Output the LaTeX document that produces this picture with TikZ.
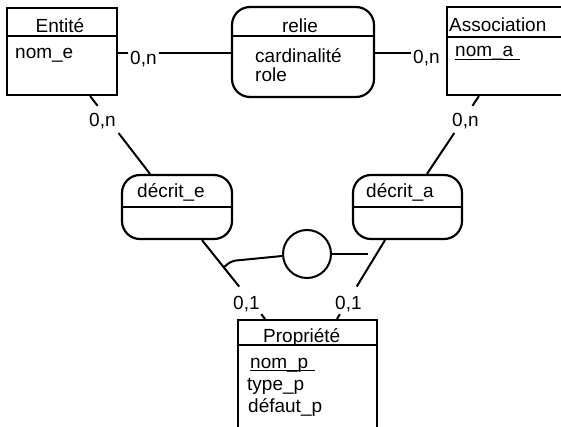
\documentclass[tikz,border=0pt]{standalone}
\usepackage{fontspec}
\setmainfont{Liberation Sans}
\usetikzlibrary{calc}

% underlined key attribute, rule running a little past the text
\newlength\pklen
\newcommand{\pk}[1]{\settowidth{\pklen}{#1}\addtolength{\pklen}{7pt}\rlap{\rule[-3.4pt]{\pklen}{1.6pt}}#1}

\tikzset{
  txt/.style={font=\fontsize{19}{22}\selectfont, inner sep=0pt},
  card/.style={txt, inner sep=2pt},
  entbox/.style={draw, line width=2.2pt, rectangle, inner sep=0pt},
  relbox/.style={draw, line width=2.2pt, rectangle, rounded corners=18pt, inner sep=0pt},
  hub/.style={draw, line width=2pt, circle, inner sep=0pt, minimum size=48pt},
  link/.style={line width=2pt},
  sep/.style={line width=2pt},
}

\begin{document}
\begin{tikzpicture}[x=1pt, y=-1pt]
\useasboundingbox (0,0) rectangle (561,427);
\clip (0,0) rectangle (561,427);
\fill[white] (0,0) rectangle (561,427);

% ---- entities and relations ----
\node[entbox, minimum width=110pt, minimum height=87pt] (ent) at (62,51.5) {};
\node[relbox, minimum width=142pt, minimum height=90pt] (relie) at (303,52) {};
\node[entbox, minimum width=143pt, minimum height=88pt] (assoc) at (518.5,51) {};
\node[relbox, minimum width=110pt, minimum height=64pt] (de) at (177,207) {};
\node[relbox, minimum width=109pt, minimum height=64pt] (da) at (407.5,207) {};
\node[hub] (circ) at (307,254) {};
\node[entbox, minimum width=139pt, minimum height=140pt] (prop) at (307.5,390) {};

% header separators
\draw[sep] ($(ent.north west)+(0,29)$) -- ($(ent.north east)+(0,29)$);
\draw[sep] ($(relie.north west)+(0,30)$) -- ($(relie.north east)+(0,30)$);
\draw[sep] ($(assoc.north west)+(0,31)$) -- ($(assoc.north east)+(0,31)$);
\draw[sep] ($(de.north west)+(0,33)$) -- ($(de.north east)+(0,33)$);
\draw[sep] ($(da.north west)+(0,33)$) -- ($(da.north east)+(0,33)$);
\draw[sep] ($(prop.north west)+(0,26)$) -- ($(prop.north east)+(0,26)$);

% ---- texts ----
\node[txt, anchor=base] (tEnt) at (60,33) {Entité};
\node[txt, anchor=base west] (tNomE) at (15,59) {nom\_e};
\node[txt, anchor=base] (tRelie) at (300,33) {relie};
\node[txt, anchor=base west] (tCard) at (255,63) {cardinalité};
\node[txt, anchor=base west] (tRole) at (255,82) {role};
\node[txt, anchor=base west] (tAssoc) at (449,32) {Association};
\node[txt, anchor=base west] (tNomA) at (455,57) {\pk{nom\_a}};
\node[txt, anchor=base west] (tDe) at (137,198) {décrit\_e};
\node[txt, anchor=base west] (tDa) at (366,198) {décrit\_a};
\node[txt, anchor=base west] (tProp) at (263,342) {Propriété};
\node[txt, anchor=base west] (tNomP) at (250,368) {\pk{nom\_p}};
\node[txt, anchor=base west] (tType) at (247,390) {type\_p};
\node[txt, anchor=base west] (tDef) at (248,412) {défaut\_p};

% ---- cardinalities ----
\node[card, anchor=base west] (c1) at (128,65) {0,n};
\node[card, anchor=base west] (c2) at (411,64) {0,n};
\node[card, anchor=base west] (c3) at (87,127) {0,n};
\node[card, anchor=base west] (c4) at (450,127) {0,n};
\node[card, anchor=base west] (c5) at (231,309) {0,1};
\node[card, anchor=base west] (c6) at (333,309) {0,1};

% ---- connectors ----
\coordinate (h1) at ($(ent.east)+(0,1.5)$);
\coordinate (h2) at ($(relie.west)+(0,1)$);
\coordinate (h3) at ($(relie.east)+(0,1)$);
\draw[link] (h1) -- (c1.west |- h1);
\draw[link] (c1.east |- h2) -- (h2);
\draw[link] (h3) -- (c2.west |- h3);

% Entité -- décrit_e, broken around its label
\path ($(ent.south east)+(-28,0)$) coordinate (a1)
      -- coordinate[pos=0.125] (a2) coordinate[pos=0.475] (a3)
      ($(de.north)+(-27,0)$) coordinate (a4);
\draw[link] (a1) -- (a2);
\draw[link] (a3) -- (a4);

% Association -- décrit_a
\path ($(assoc.south west)+(33,0)$) coordinate (b1)
      -- coordinate[pos=0.125] (b2) coordinate[pos=0.475] (b3)
      ($(da.north)+(19.5,0)$) coordinate (b4);
\draw[link] (b1) -- (b2);
\draw[link] (b3) -- (b4);

% décrit_e -- Propriété
\path ($(de.south)+(25,0)$) coordinate (d1)
      -- coordinate[pos=0.346] (j1) coordinate[pos=0.59] (d2) coordinate[pos=0.94] (d3)
      ($(prop.north)+(-42.5,0)$) coordinate (d4);
\draw[link] (d1) -- (d2);
\draw[link] (d3) -- (d4);

% décrit_a -- Propriété
\path ($(da.south)+(-22.5,0)$) coordinate (e1)
      -- coordinate[pos=0.59] (e2) coordinate[pos=0.94] (e3)
      ($(prop.north)+(29.5,0)$) coordinate (e4);
\draw[link] (e1) -- (e2);
\draw[link] (e3) -- (e4);

% constraint circle
\coordinate (j0) at (231,261);
\coordinate (k1) at (368,254);
\draw[link, rounded corners=5pt] ($(circ.west)+(0,2)$) -- (j0) -- (j1);
\draw[link] (circ.east) -- (k1);
\end{tikzpicture}
\end{document}
